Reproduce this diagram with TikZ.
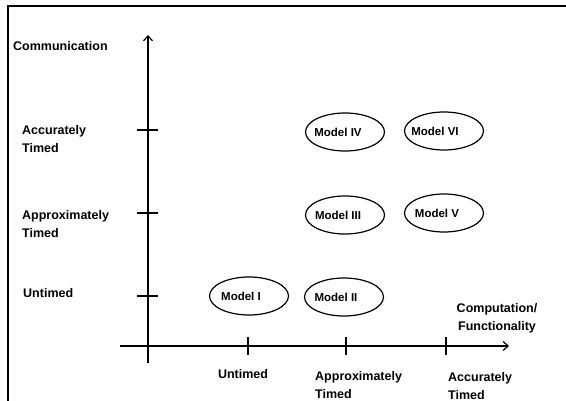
\documentclass[tikz,border=0pt]{standalone}
\usepackage{fontspec}
\setmainfont{Liberation Sans}
\usetikzlibrary{shapes.geometric,arrows.meta}
\tikzset{
  lbl/.style={inner sep=0pt, font=\bfseries\fontsize{12.5}{18}\selectfont},
  mlbl/.style={inner sep=0pt, font=\bfseries\fontsize{11.5}{14}\selectfont},
  model/.style={draw, ellipse, line width=1.2pt, minimum width=79pt, minimum height=38pt, inner sep=0pt},
  axis/.style={line width=1.2pt, -{Straight Barb[length=5pt,width=9pt,line width=1.2pt]}},
  tick/.style={line width=1.1pt}
}
\begin{document}
\begin{tikzpicture}[x=1pt,y=-1pt]
  \useasboundingbox (0,0) rectangle (566,401);
  % frame
  \draw[line width=1.4pt] (8,401) -- (8,6) -- (566,6);
  % axes
  \coordinate (Ybot) at (148,363);
  \coordinate (Ytop) at (148,35);
  \coordinate (Xleft) at (120,346);
  \coordinate (Xright) at (509,346);
  \draw[axis] (Ybot) -- (Ytop);
  \draw[axis] (Xleft) -- (Xright);
  % ticks on the vertical axis
  \draw[tick] (137,130) coordinate (ya) -- ++(21,0);
  \draw[tick] (137,213) coordinate (yb) -- ++(21,0);
  \draw[tick] (137,296) coordinate (yc) -- ++(21,0);
  % ticks on the horizontal axis
  \draw[tick] (248,337) coordinate (xa) -- ++(0,18);
  \draw[tick] (346,337) coordinate (xb) -- ++(0,18);
  \draw[tick] (446,337) coordinate (xc) -- ++(0,18);
  % axis labels
  \node[lbl, anchor=west] (C) at (13,46) {Communication};
  \node[lbl, anchor=west, align=left] (CA) at (22,139) {Accurately\\Timed};
  \node[lbl, anchor=west, align=left] (CP) at (22,224) {Approximately\\Timed};
  \node[lbl, anchor=west] (CU) at (23,293) {Untimed};
  \node[lbl, align=center] (F) at (497,318) {Computation/\\Functionality};
  \node[lbl] (FU) at (243,374) {Untimed};
  \node[lbl, anchor=west, align=left] (FP) at (315,385) {Approximately\\Timed};
  \node[lbl, anchor=west, align=left] (FA) at (448,386) {Accurately\\Timed};
  % models
  \node[model, label={[mlbl,xshift=-8pt]center:Model I}] (M1) at (249,296) {};
  \node[model, label={[mlbl,xshift=-8pt]center:Model II}] (M2) at (344,297) {};
  \node[model, label={[mlbl,xshift=-7pt]center:Model III}] (M3) at (345,215) {};
  \node[model, label={[mlbl,xshift=-7pt]center:Model IV}] (M4) at (345,132) {};
  \node[model, label={[mlbl,xshift=-7pt]center:Model V}] (M5) at (444,213) {};
  \node[model, label={[mlbl,xshift=-9pt]center:Model VI}] (M6) at (444,131) {};
\end{tikzpicture}
\end{document}
